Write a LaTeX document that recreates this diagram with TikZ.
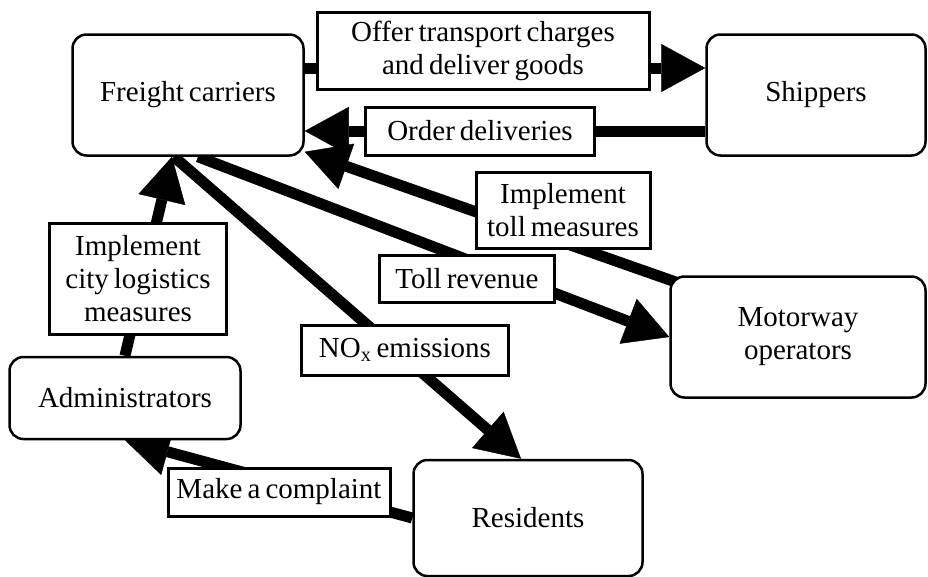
\documentclass[tikz,border=0pt]{standalone}
\usepackage{fontspec}
\setmainfont{Liberation Serif}[WordSpace=0.7]
\usetikzlibrary{arrows.meta,backgrounds}

\begin{document}
\begin{tikzpicture}[x=1pt, y=-1pt,
every node/.style={font=\fontsize{29}{33}\selectfont, align=center},
actor/.style={draw, line width=2.5pt, rounded corners=14pt, fill=white},
flowlabel/.style={draw, line width=3pt, fill=white, inner sep=0pt},
flow/.style={line width=11pt, -{Triangle[length=44pt,width=48pt,line width=0.4pt]}}
]
\useasboundingbox (0,0) rectangle (928,576);

% actors
\node[actor, minimum width=231pt, minimum height=121pt] (fc) at (188,95) {Freight carriers};
\node[actor, minimum width=219pt, minimum height=121pt] (ship) at (816,95) {Shippers};
\node[actor, minimum width=255pt, minimum height=121pt] (moto) at (798,337) {Motorway\\operators};
\node[actor, minimum width=231pt, minimum height=82pt] (admin) at (125,398) {Administrators};
\node[actor, minimum width=229pt, minimum height=116pt] (resid) at (528,518) {Residents};

% labels on the flows
\node[flowlabel, minimum width=332pt, minimum height=77pt] (offer) at (483,51) {Offer transport charges\\and deliver goods};
\node[flowlabel, minimum width=229pt, minimum height=48pt] (order) at (480,131) {Order deliveries};
\node[flowlabel, minimum width=174pt, minimum height=76pt] (tollm) at (563,210) {Implement\\toll measures};
\node[flowlabel, minimum width=175pt, minimum height=47pt] (tollr) at (467,279) {Toll revenue};
\node[flowlabel, minimum width=177pt, minimum height=111pt] (city) at (138,279) {Implement\\city logistics\\measures};
\node[flowlabel, minimum width=207pt, minimum height=50pt] (nox) at (405,350) {NO\textsubscript{x} emissions};
\node[flowlabel, minimum width=222pt, minimum height=48pt] (compl) at (279,492) {Make a complaint};

% ends of the flows
\coordinate (fc-o) at ([yshift=27pt]fc.east);
\coordinate (ship-o) at ([yshift=27pt]ship.west);
\coordinate (ship-d) at ([yshift=-36pt]ship.west);
\coordinate (fc-d) at ([yshift=-36pt]fc.east);
\coordinate (moto-t) at ([xshift=10pt,yshift=-8pt]moto.north west);
\coordinate (fc-t) at ([yshift=5pt]fc.south east);
\coordinate (fc-r) at ([xshift=10pt]fc.south);
\coordinate (fc-n) at ([xshift=-14pt]fc.south);
\coordinate (resid-n) at ([xshift=-7pt]resid.north);
\coordinate (fc-c) at ([xshift=-16pt]fc.south);

\begin{scope}[on background layer]
\foreach \i/\j in {fc-o/ship-o, ship-d/fc-d,
                   moto-t/fc-t, fc-r/moto.west,
                   fc-n/resid-n, admin.north/fc-c,
                   resid.west/admin.south%
            }
    \draw[flow] (\i) -- (\j);
\end{scope}
\end{tikzpicture}
\end{document}
